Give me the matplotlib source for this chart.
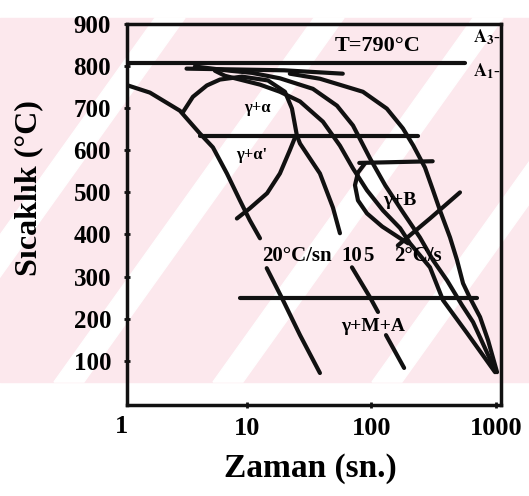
import matplotlib
matplotlib.use('Agg')
import matplotlib.pyplot as plt
from matplotlib.patches import Rectangle, Polygon

plt.rcParams['font.family'] = ['Liberation Serif', 'DejaVu Serif']
plt.rcParams['mathtext.fontset'] = 'stix'

# cooling curves: time (s) / temperature (C), split where labels break the line
c20_t_a = [1.12, 1.68, 2.92, 4.22, 5.37, 6.95, 8.84, 10.6, 12.8]
c20_T_a = [754, 737, 694, 640, 607, 545, 481, 434, 391]
c20_t_b = [14.5, 19.2, 26.8, 38.7]
c20_T_b = [320, 249, 161, 71]

c10_t_a = [3.08, 3.71, 4.80, 6.11, 9.17, 14.8, 20.3, 23.1, 25.3, 26.8, 38.7, 49.2, 56.0]
c10_T_a = [690, 727, 754, 768, 775, 766, 739, 699, 635, 616, 545, 464, 403]
c10_t_b = [69.9, 97.4, 113]
c10_T_b = [322, 251, 216]
c10_t_c = [131, 183]
c10_T_c = [161, 83]

c5_t = [5.57, 6.70, 12.8, 18.5, 26.8, 40.9, 56.0, 71.2, 92.2, 124, 170, 204, 295, 375, 584, 980]
c5_T = [789, 777, 756, 739, 716, 668, 611, 557, 505, 457, 415, 379, 322, 244, 166, 73]

c2_t = [3.85, 7.35, 11.0, 18.5, 34.0, 53.0, 71.2, 97.4, 129, 179, 245, 312, 404, 533, 653, 980]
c2_T = [799, 789, 784, 771, 746, 706, 659, 581, 517, 453, 393, 339, 291, 232, 192, 78]

c1_t = [22.2, 38.7, 85.6, 133, 179, 217, 269, 312, 355, 427, 486, 543, 618, 743, 861, 1017]
c1_T = [782, 770, 739, 699, 652, 611, 559, 505, 457, 393, 339, 284, 249, 204, 149, 73]

# transformation lines
a1_t, a1_T = [1.1, 562], [808, 808]
top_t, top_T = [3.3, 20, 59], [794, 790, 782]
f640_t, f640_T = [4.22, 236], [635, 635]
b570_t, b570_T = [80, 310], [570, 574]
ms_t, ms_T = [8.84, 703], [250, 250]
alpha_p_t = [8.36, 10.6, 14.6, 18.5, 22.2, 24.4]
alpha_p_T = [438, 462, 498, 545, 600, 630]
bloop_t = [88.9, 78.1, 73.9, 78.1, 92.2, 122, 170, 197]
bloop_T = [569, 547, 517, 481, 450, 419, 391, 379]
bend_t, bend_T = [163, 295, 513], [374, 438, 500]

yticks = [100, 200, 300, 400, 500, 600, 700, 800, 900]
xticks = [10, 100, 1000]

W, H = 529, 496
fig = plt.figure(figsize=(W / 100, H / 100), dpi=100)

# pink scan watermark behind everything
pink = '#fce8ed'
fig.patches.append(Rectangle((0, 1 - 382 / H), 1, 364 / H, transform=fig.transFigure,
                             color=pink, zorder=-2))
for x0 in [-105, 54, 213, 372]:
    dx = 364 / 1.4
    pts = [(x0, 382), (x0 + 30, 382), (x0 + 30 + dx, 18), (x0 + dx, 18)]
    fig.patches.append(Polygon([(x / W, 1 - y / H) for x, y in pts], closed=True,
                               transform=fig.transFigure, color='white', zorder=-1))

ax = fig.add_axes([127 / W, 1 - 405 / H, 374 / W, 381 / H])
ax.set_facecolor('none')
ax.set_xscale('log')
ax.set_xlim(1.1, 1094)
ax.set_ylim(-5, 898)

k = '#111111'
lw = 3.0
kw = dict(color=k, lw=lw, solid_capstyle='round', solid_joinstyle='round')
for t, T in [(c20_t_a, c20_T_a), (c20_t_b, c20_T_b), (c10_t_a, c10_T_a), (c10_t_b, c10_T_b),
             (c10_t_c, c10_T_c), (c5_t, c5_T), (c2_t, c2_T), (c1_t, c1_T),
             (a1_t, a1_T), (top_t, top_T), (f640_t, f640_T), (b570_t, b570_T),
             (ms_t, ms_T), (alpha_p_t, alpha_p_T), (bloop_t, bloop_T), (bend_t, bend_T)]:
    ax.plot(t, T, **kw)

fw = 'bold'
ax.text(113, 848, 'T=790°C', fontsize=16, ha='center', va='center', fontweight=fw)
ax.text(840, 868, r'$\mathbf{A_3}$-', fontsize=13, ha='center', va='center')
ax.text(840, 788, r'$\mathbf{A_1}$-', fontsize=13, ha='center', va='center')
ax.text(12.3, 701, 'γ+α', fontsize=12, ha='center', va='center', fontweight=fw)
ax.text(11.0, 588, "γ+α'", fontsize=12, ha='center', va='center', fontweight=fw)
ax.text(170, 481, 'γ+B', fontsize=14, ha='center', va='center', fontweight=fw)
ax.text(103, 182, 'γ+M+A', fontsize=14, ha='center', va='center', fontweight=fw)
ax.text(25.3, 350, '20°C/sn', fontsize=15, ha='center', va='center', fontweight=fw)
ax.text(69.9, 350, '10', fontsize=15, ha='center', va='center', fontweight=fw)
ax.text(94, 350, '5', fontsize=15, ha='center', va='center', fontweight=fw)
ax.text(236, 350, '2°C/s', fontsize=15, ha='center', va='center', fontweight=fw)

ax.set_yticks(yticks)
ax.set_yticklabels([str(v) for v in yticks], fontsize=18, fontweight=fw)
ax.set_xticks(xticks)
ax.set_xticklabels([str(v) for v in xticks], fontsize=19, fontweight=fw)
ax.minorticks_off()
ax.tick_params(axis='y', direction='inout', length=5, width=2, pad=9, color=k)
ax.tick_params(axis='x', direction='inout', length=5, width=2, pad=6, color=k)
ax.text(1, -0.025, '1', transform=ax.get_xaxis_transform(), ha='center', va='top',
        fontsize=19, fontweight=fw, clip_on=False)

for s in ax.spines.values():
    s.set_linewidth(2.5)
    s.set_color(k)

ax.set_xlabel('Zaman (sn.)', fontsize=24, fontweight=fw)
ax.xaxis.set_label_coords(0.49, -0.125)
ax.set_ylabel('Sıcaklık (°C)', fontsize=23, fontweight=fw)
ax.yaxis.set_label_coords(-0.225, 0.57)

fig.savefig('out.png', dpi=100)
